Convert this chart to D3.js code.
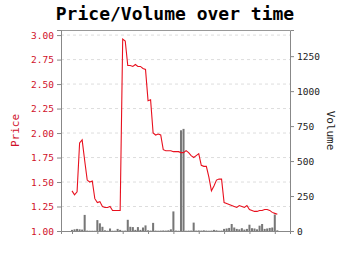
<!DOCTYPE html>
<html>
<head>
<meta charset="utf-8">
<script src="https://cdn.jsdelivr.net/npm/d3@7"></script>
<style>
    body { margin: 0; background: #fff; }
    text { font-family: "DejaVu Sans Mono", monospace; }
</style>
</head>
<body>
<div id="chart"></div>
<script>
// Daily price values (index 0..81)
let prices = [
    1.41, 1.37, 1.40, 1.90, 1.93, 1.72, 1.52, 1.50, 1.51, 1.33,
    1.29, 1.30, 1.25, 1.24, 1.24, 1.25, 1.21, 1.21, 1.21, 1.21,
    2.96, 2.94, 2.69, 2.69, 2.68, 2.70, 2.68, 2.68, 2.66, 2.65,
    2.33, 2.34, 2.00, 1.98, 1.99, 1.98, 1.83, 1.82, 1.82, 1.82,
    1.81, 1.81, 1.81, 1.80, 1.80, 1.82, 1.80, 1.77, 1.75, 1.77,
    1.79, 1.67, 1.66, 1.66, 1.55, 1.41, 1.46, 1.52, 1.53, 1.53,
    1.29, 1.28, 1.27, 1.26, 1.25, 1.24, 1.26, 1.25, 1.24, 1.26,
    1.22, 1.21, 1.20, 1.20, 1.21, 1.21, 1.22, 1.22, 1.21, 1.19,
    1.18, 1.17
];

// Daily volume values
let volumes = [
    8, 12, 15, 12, 10, 115, 3, 2, 2, 2,
    78, 55, 30, 5, 2, 18, 2, 2, 15, 8,
    2, 3, 80, 30, 28, 8, 28, 8, 25, 40,
    5, 3, 58, 3, 2, 3, 4, 3, 5, 12,
    140, 3, 2, 720, 730, 2, 3, 3, 60, 3,
    4, 3, 5, 3, 2, 3, 8, 5, 2, 3,
    15, 18, 22, 50, 25, 15, 12, 20, 10, 15,
    45, 20, 18, 12, 38, 50, 15, 18, 22, 25,
    118, 5
];

let priceTicks = [1.00, 1.25, 1.50, 1.75, 2.00, 2.25, 2.50, 2.75, 3.00];
let volumeTicks = [0, 250, 500, 750, 1000, 1250];
let xTicks = [0, 10, 20, 30, 40, 50, 60, 70, 80];

let data = prices.map(function(p, i) { return {i: i, price: p, volume: volumes[i]}; });

// Dimensions
let margin = {top: 30, right: 60, bottom: 24, left: 61},
    width = 350 - margin.left - margin.right,
    height = 255 - margin.top - margin.bottom;

let svg = d3.select("#chart").append("svg")
    .attr("width", 350)
    .attr("height", 255);

// Title
svg.append("text")
    .attr("x", 175)
    .attr("y", 20)
    .attr("text-anchor", "middle")
    .style("font-size", "18px")
    .style("font-weight", "bold")
    .text("Price/Volume over time");

let g = svg.append("g")
    .attr("transform", "translate(" + margin.left + "," + margin.top + ")");

// Scales
let x = d3.scaleLinear().domain([-4.34, 86.0]).range([0, width]);
let y = d3.scaleLinear().domain([1, 3.052]).range([height, 0]);
let yVol = d3.scaleLinear().domain([0, 1437]).range([height, 0]);

// Grid lines
g.selectAll(".grid")
    .data(priceTicks.slice(1))
    .enter().append("line")
    .attr("x1", 0)
    .attr("x2", width)
    .attr("y1", function(d) { return y(d); })
    .attr("y2", function(d) { return y(d); })
    .style("stroke", "#ddd")
    .style("stroke-dasharray", "3,3")
    .style("stroke-width", 1);

// Volume bars
let barW = (x(1) - x(0)) * 0.8;
g.selectAll(".bar")
    .data(data)
    .enter().append("rect")
    .attr("x", function(d) { return x(d.i) - barW / 2; })
    .attr("width", barW)
    .attr("y", function(d) { return yVol(d.volume); })
    .attr("height", function(d) { return height - yVol(d.volume); })
    .style("fill", "#777");

// Price line
let line = d3.line()
    .x(function(d) { return x(d.i); })
    .y(function(d) { return y(d.price); });

g.append("path")
    .datum(data)
    .attr("d", line)
    .style("fill", "none")
    .style("stroke", "#e8101e")
    .style("stroke-width", 1.1);

// Frame top
g.append("line")
    .attr("x1", 0).attr("x2", width)
    .attr("y1", 0.5).attr("y2", 0.5)
    .style("stroke", "#999");

// Axes
let xAxis = g.append("g")
    .attr("transform", "translate(0," + height + ")")
    .call(d3.axisBottom(x).tickValues(xTicks).tickFormat("").tickSizeOuter(0).tickSize(3));

let yAxis = g.append("g")
    .call(d3.axisLeft(y).tickValues(priceTicks).tickFormat(d3.format(".2f")).tickSizeOuter(0).tickSize(4));

let yVolAxis = g.append("g")
    .attr("transform", "translate(" + width + ",0)")
    .call(d3.axisRight(yVol).tickValues(volumeTicks).tickFormat(d3.format("d")).tickSizeOuter(0).tickSize(4));

[xAxis, yAxis, yVolAxis].forEach(function(a) {
    a.select(".domain").style("stroke", "#888");
    a.selectAll(".tick line").style("stroke", "#888");
    a.selectAll("text")
        .style("font-family", "'DejaVu Sans Mono', monospace")
        .style("font-size", "9.5px");
});
yAxis.selectAll("text").style("fill", "#d0102a");
yVolAxis.selectAll("text").style("fill", "#222");

// Axis titles
svg.append("text")
    .attr("transform", "translate(19," + (margin.top + height / 2) + ") rotate(-90)")
    .attr("text-anchor", "middle")
    .style("font-size", "11px")
    .style("fill", "#d0102a")
    .text("Price");

svg.append("text")
    .attr("transform", "translate(327," + (margin.top + height / 2) + ") rotate(90)")
    .attr("text-anchor", "middle")
    .style("font-size", "11px")
    .style("fill", "#222")
    .text("Volume");
</script>
</body>
</html>
